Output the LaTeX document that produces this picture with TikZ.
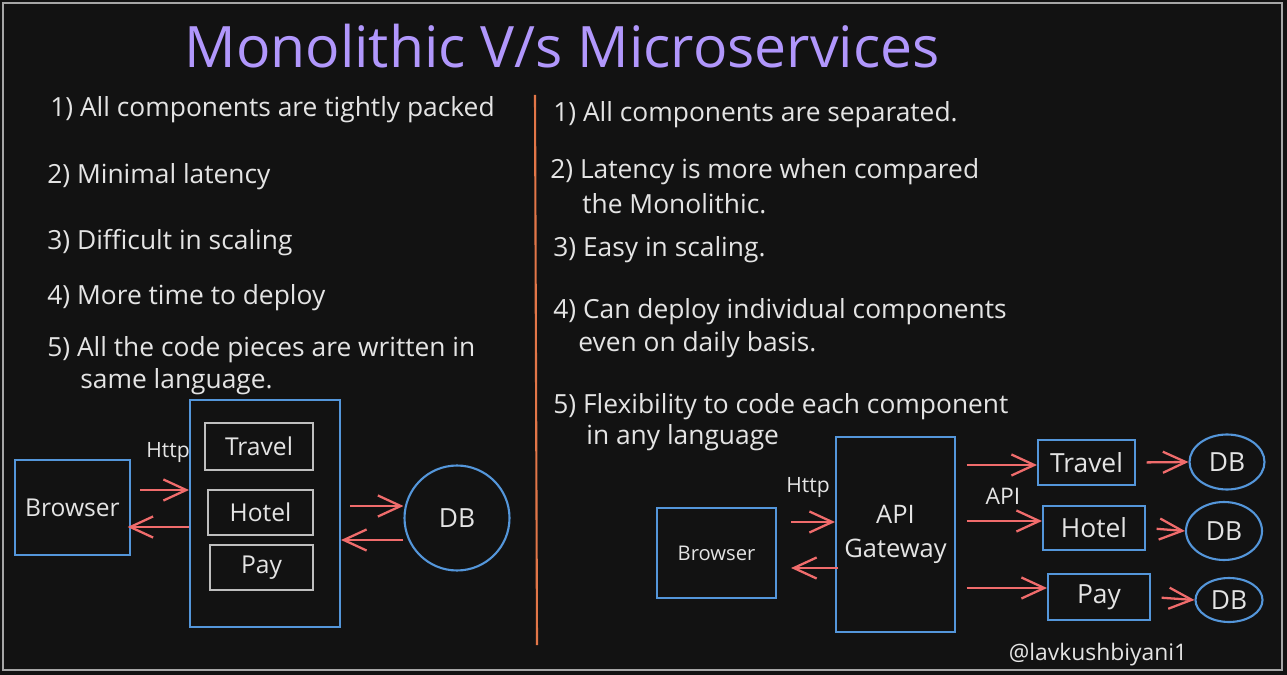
\documentclass[tikz,border=0pt]{standalone}
\usepackage{fontspec}
\setmainfont{Open Sans}
\usetikzlibrary{arrows.meta,shapes.geometric}

\begin{document}
\begin{tikzpicture}[x=0.02cm, y=-0.02cm,
		point/.style={anchor=west, inner sep=0pt, text=ink, font=\fontsize{15}{18}\selectfont},
		part/.style={draw=#1, line width=1.2pt, inner sep=0pt, text=ink, font=\fontsize{14}{16}\selectfont},
		link/.style={draw=coral, line width=1.3pt, -{Straight Barb[length=13pt, width=12pt]}}
		]
		
		% ==========================================
		% COLOURS
		% ==========================================
		\definecolor{bg}{RGB}{18,18,18}
		\definecolor{ink}{RGB}{228,228,228}
		\definecolor{lilac}{RGB}{177,151,252}
		\definecolor{sky}{RGB}{84,150,218}
		\definecolor{coral}{RGB}{240,108,108}
		\definecolor{rust}{RGB}{226,118,72}
		\definecolor{shade}{RGB}{190,190,190}
		
		% Canvas and thin frame
		\fill[bg] (0,0) rectangle (1287,675);
		\draw[gray!70, line width=0.8pt] (3,3) rectangle (1282,670);
		
		% ==========================================
		% TITLE AND DIVIDER
		% ==========================================
		\node[text=lilac, font=\fontsize{32.5}{38}\selectfont] (title) at (562,46) {Monolithic V/s Microservices};
		\coordinate (cutTop) at (535,95);
		\coordinate (cutBot) at (537,645);
		\draw[rust, line width=1.2pt] (cutTop) -- (cutBot);
		
		% ==========================================
		% POINTS: MONOLITHIC (left) AND MICROSERVICES (right)
		% ==========================================
		\foreach \x/\y/\t [count=\i] in {
			50/110/1) All components are tightly packed,
			47/177/2) Minimal latency,
			47/243/3) Difficult in scaling,
			47/298/4) More time to deploy,
			47/350/5) All the code pieces are written in,
			80/382/same language.} {
			\node[point] (monoTxt\i) at (\x,\y) {\t};
		}
		\foreach \x/\y/\t [count=\i] in {
			553/115/1) All components are separated.,
			550/172/2) Latency is more when compared,
			582/204/the Monolithic.,
			553/250/3) Easy in scaling.,
			553/312/4) Can deploy individual components,
			578/345/even on daily basis.,
			553/407/5) Flexibility to code each component,
			586/438/in any language} {
			\node[point] (microTxt\i) at (\x,\y) {\t};
		}
		
		% ==========================================
		% MONOLITHIC SKETCH
		% ==========================================
		\node[part=sky, minimum width=2.3cm, minimum height=1.9cm] (browserL) at (72.5,507.5) {Browser};
		\node[part=sky, minimum width=3cm, minimum height=4.54cm] (mono) at (265,513.5) {};
		\node[part=shade, minimum width=2.16cm, minimum height=0.94cm] (travelL) at (259,446.5) {Travel};
		\node[part=shade, minimum width=2.1cm, minimum height=0.9cm] (hotelL) at (260.5,512.5) {Hotel};
		\node[part=shade, minimum width=2.06cm, minimum height=0.9cm] (payL) at (261.5,567.5) {Pay};
		\node[part=sky, circle, minimum size=2.1cm, font=\fontsize{15}{17}\selectfont] (dbL) at (457,518) {DB};
		\node[text=ink, font=\fontsize{12}{14}\selectfont, inner sep=0pt] (httpL) at (168,453) {Http};
		
		\draw[link, shorten <=5pt] (browserL.east |- 0,490) -- (mono.west |- 0,490);
		\draw[link, shorten >=-2pt] (mono.west |- 0,527) -- (browserL.east |- 0,527);
		\draw[link, shorten <=5pt] (mono.east |- 0,506) -- (dbL.west |- 0,506);
		\draw[link] (dbL.west |- 0,540) -- (mono.east |- 0,540);
		
		% ==========================================
		% MICROSERVICES SKETCH
		% ==========================================
		\node[part=sky, minimum width=2.38cm, minimum height=1.8cm, font=\fontsize{11.5}{14}\selectfont] (browserR) at (716.5,553) {Browser};
		\node[part=sky, minimum width=2.38cm, minimum height=3.9cm, align=center, font=\fontsize{14.5}{19}\selectfont] (gateway) at (895.5,534.5) {API\\Gateway};
		\node[text=ink, font=\fontsize{12}{14}\selectfont, inner sep=0pt] (httpR) at (808,488) {Http};
		\node[text=ink, font=\fontsize{13}{15}\selectfont, inner sep=0pt] (api) at (1003,496) {API};
		
		\node[part=sky, minimum width=1.94cm, minimum height=0.9cm, font=\fontsize{15}{17}\selectfont] (travelR) at (1086.5,462.5) {Travel};
		\node[part=sky, minimum width=2.04cm, minimum height=0.88cm, font=\fontsize{15}{17}\selectfont] (hotelR) at (1094,528) {Hotel};
		\node[part=sky, minimum width=2.04cm, minimum height=0.92cm, font=\fontsize{15}{17}\selectfont] (payR) at (1099,597) {Pay};
		
		\node[part=sky, ellipse, minimum width=1.5cm, minimum height=1.1cm, font=\fontsize{15}{17}\selectfont] (db1) at (1227,462) {DB};
		\node[part=sky, ellipse, minimum width=1.52cm, minimum height=1.16cm, font=\fontsize{15}{17}\selectfont] (db2) at (1224,531) {DB};
		\node[part=sky, ellipse, minimum width=1.34cm, minimum height=0.88cm, font=\fontsize{15}{17}\selectfont] (db3) at (1229,600) {DB};
		
		\draw[link, shorten <=8pt] (browserR.east |- 0,522) -- (gateway.west |- 0,522);
		\draw[link, shorten <=-2pt, shorten >=8pt] (gateway.west |- 0,568) -- (browserR.east |- 0,568);
		
		% Gateway fans out to each service, each service to its own DB
		\foreach \svc/\y in {travelR/465, hotelR/521, payR/588} {
			\draw[link, shorten <=6pt] (gateway.east |- 0,\y) -- (\svc.west |- 0,\y);
		}
		\foreach \svc/\db in {travelR/db1, hotelR/db2, payR/db3} {
			\draw[link, shorten <=6pt] (\svc.east) -- (\db.west);
		}
		
		% Signature
		\node[text=ink, font=\fontsize{13}{15}\selectfont, inner sep=0pt] (sign) at (1098,655) {@lavkushbiyani1};
		
	\end{tikzpicture}
\end{document}
